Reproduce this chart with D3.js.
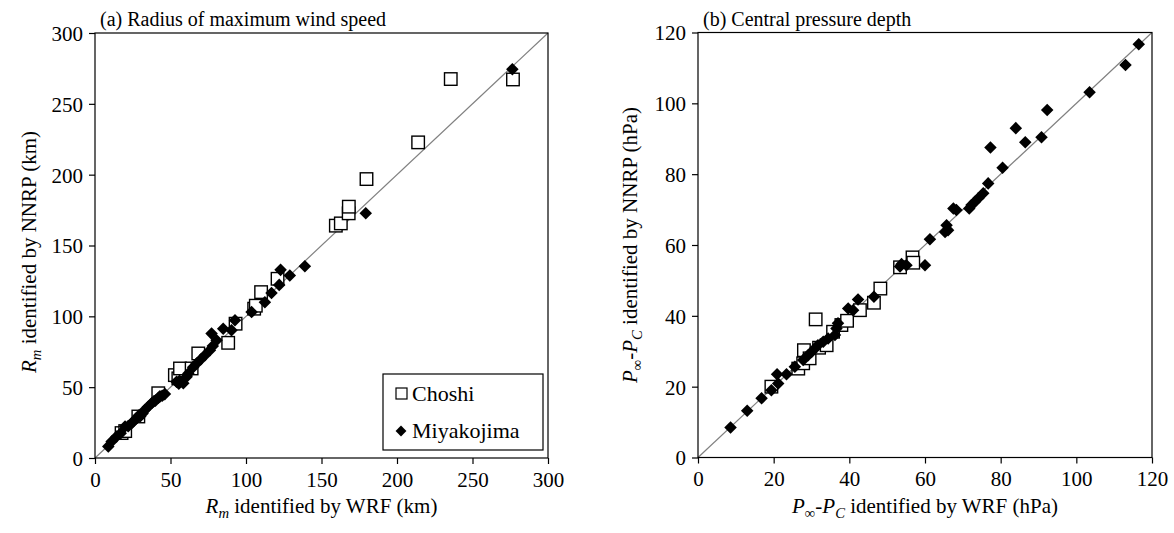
<!DOCTYPE html>
<html><head><meta charset="utf-8">
<script src="https://cdn.jsdelivr.net/npm/d3@7"></script>
<style>body{margin:0;background:#fff}</style>
</head><body>
<svg id="c" width="1174" height="533" font-family="Liberation Serif"></svg>
<script>
// ---------- data ----------
const seriesNames = ["Choshi", "Miyakojima"];
const rmTicks = [0, 50, 100, 150, 200, 250, 300];
const dpTicks = [0, 20, 40, 60, 80, 100, 120];

// (a) Radius of maximum wind speed (km)
const rmChoshiWRF  = [17.6, 20, 28.7, 41.9, 52.9, 55.2, 56.3, 64, 68.4, 88.2, 93.1, 105.4, 106.5, 110, 120.9, 159.5, 162.8, 168, 168.1, 179.8, 214, 235.6, 276.8];
const rmChoshiNNRP = [17.6, 19, 29.3, 45.7, 58.5, 56.2, 63.2, 63.2, 73.8, 81.3, 94.8, 105.4, 107.5, 117.1, 126.5, 164, 165.6, 172.7, 177.4, 196.9, 222.8, 267.5, 267.2];
const rmMiyaWRF  = [8.8, 11, 14.3, 17, 19.9, 22, 24.3, 25.5, 27.6, 29, 30, 31.5, 33.1, 35, 37.5, 39, 40, 42, 43, 44.5, 46.3, 54, 55.5, 56, 58.5, 60.7, 61.8, 65, 67.3, 70, 72.8, 76.1, 78, 80.5, 77.2, 84.9, 90.4, 92.7, 103.7, 112.5, 116.9, 122, 122.9, 129, 139, 179.3, 276.4];
const rmMiyaNNRP = [8.2, 11.7, 15.2, 17.5, 22.2, 22.5, 24.6, 26, 28.1, 30, 29.5, 31.5, 34, 36, 38.6, 40, 40.5, 42.5, 43.5, 44, 45.2, 53.9, 52.5, 54.5, 52.7, 57.4, 59.7, 64, 66.7, 69.5, 72.6, 76.1, 79, 83.1, 87.8, 91.3, 90.2, 97.2, 103, 110, 116.4, 122.2, 132.8, 128.8, 135.4, 172.7, 274.4];

// (b) Central pressure depth (hPa)
const dpChoshiWRF  = [19.4, 26.5, 27.8, 28, 29.5, 31.1, 32, 34, 35.7, 37.9, 39.4, 42.8, 46.5, 48.2, 53.4, 56.7, 56.9];
const dpChoshiNNRP = [20, 25.1, 26.6, 30.3, 28, 39, 31, 31.7, 35.5, 37.4, 38.6, 41.6, 43.7, 47.7, 53.7, 56.5, 55];
const dpMiyaWRF  = [8.6, 13, 16.8, 19.4, 21.2, 20.9, 23.4, 25.6, 27.8, 29.1, 30, 30.9, 31.7, 33.1, 34.4, 36.2, 36.6, 37, 39.7, 41, 42.3, 46.5, 53.4, 53.8, 55.1, 60, 61.3, 65.3, 66.1, 65.7, 67.5, 68.3, 71.7, 72.3, 73.2, 74.1, 75.4, 76.7, 77.3, 80.5, 84, 86.5, 90.8, 92.3, 103.5, 113, 116.5];
const dpMiyaNNRP = [8.5, 13.2, 16.7, 19, 20.9, 23.5, 23.5, 25.6, 27.5, 28.9, 29.8, 30.8, 31.7, 32.7, 33.6, 34.6, 36.4, 37.9, 42.1, 41.6, 44.6, 45.4, 53.9, 54.6, 54.3, 54.3, 61.6, 63.7, 64.2, 65.6, 70.3, 69.9, 70.3, 71.3, 72.2, 73.2, 74.6, 77.4, 87.5, 81.8, 93, 89, 90.4, 98.1, 103.1, 110.8, 116.7];

// ---------- drawing ----------
const FONT = "Liberation Serif";
const svg = d3.select("#c");
const FS = 21;

function label(sel, parts) {
  parts.forEach(p => {
    const t = sel.append("tspan").attr("font-family", FONT).text(p.t);
    if (p.i) t.attr("font-style", "italic");
    if (p.sub) t.attr("font-size", FS * 0.7).attr("baseline-shift", "-30%");
  });
}

function panel(opt) {
  const x = d3.scaleLinear().domain([opt.ticks[0], opt.ticks[opt.ticks.length - 1]]).range(opt.xr);
  const y = d3.scaleLinear().domain([opt.ticks[0], opt.ticks[opt.ticks.length - 1]]).range(opt.yr);
  const g = svg.append("g");

  g.append("line")
    .attr("x1", x(opt.ticks[0])).attr("y1", y(opt.ticks[0]))
    .attr("x2", x(opt.ticks[opt.ticks.length - 1])).attr("y2", y(opt.ticks[opt.ticks.length - 1]))
    .attr("stroke", "#808080").attr("stroke-width", 1.2);

  const ax = g.append("g").attr("transform", `translate(0,${opt.yr[0]})`)
    .call(d3.axisBottom(x).tickValues(opt.ticks).tickSize(6).tickSizeOuter(0).tickPadding(5));
  const ay = g.append("g").attr("transform", `translate(${opt.xr[0]},0)`)
    .call(d3.axisLeft(y).tickValues(opt.ticks).tickSize(6).tickSizeOuter(0).tickPadding(6));
  [ax, ay].forEach(a => {
    a.attr("font-family", FONT);
    a.select(".domain").remove();
    a.selectAll("line").attr("stroke", "#000").attr("stroke-width", 1.2);
    a.selectAll("text").attr("font-size", FS).attr("font-family", FONT).attr("fill", "#000");
  });
  ax.selectAll("text").attr("dy", "0.85em");
  ay.selectAll("text").attr("dy", "0.35em");

  g.append("rect")
    .attr("x", opt.xr[0]).attr("y", opt.yr[1])
    .attr("width", opt.xr[1] - opt.xr[0]).attr("height", opt.yr[0] - opt.yr[1])
    .attr("fill", "none").attr("stroke", "#000").attr("stroke-width", 1.2);

  const s = 12.5;
  g.selectAll(".sq").data(opt.cx.map((v, i) => [v, opt.cy[i]])).enter().append("rect")
    .attr("x", d => x(d[0]) - s / 2).attr("y", d => y(d[1]) - s / 2)
    .attr("width", s).attr("height", s)
    .attr("fill", "#fff").attr("stroke", "#000").attr("stroke-width", 1.4);
  const dsym = d3.symbol().type(d3.symbolDiamond2).size(100);
  g.selectAll(".dm").data(opt.mx.map((v, i) => [v, opt.my[i]])).enter().append("path")
    .attr("d", dsym)
    .attr("transform", d => `translate(${x(d[0])},${y(d[1])})`)
    .attr("fill", "#000");

  g.append("text").attr("x", opt.xr[0] + 5).attr("y", opt.yr[1] - 7)
    .attr("font-family", FONT).attr("font-size", 20).text(opt.title);

  const xt = g.append("text").attr("x", (opt.xr[0] + opt.xr[1]) / 2).attr("y", opt.yr[0] + 55)
    .attr("text-anchor", "middle").attr("font-family", FONT).attr("font-size", FS);
  label(xt, opt.xl);
  const yt = g.append("text")
    .attr("transform", `translate(${opt.ylx},${opt.ylc}) rotate(-90)`)
    .attr("text-anchor", "middle").attr("font-family", FONT).attr("font-size", FS);
  label(yt, opt.yl);
  return {g, x, y};
}

const A = panel({
  xr: [95, 548], yr: [458, 33], ticks: rmTicks,
  cx: rmChoshiWRF, cy: rmChoshiNNRP, mx: rmMiyaWRF, my: rmMiyaNNRP,
  title: "(a) Radius of maximum wind speed",
  xl: [{t: "R", i: 1}, {t: "m", i: 1, sub: 1}, {t: " identified by WRF (km)"}],
  yl: [{t: "R", i: 1}, {t: "m", i: 1, sub: 1}, {t: "  identified by NNRP (km)"}],
  ylx: 36, ylc: 252
});

const B = panel({
  xr: [698, 1152], yr: [457.5, 32.5], ticks: dpTicks,
  cx: dpChoshiWRF, cy: dpChoshiNNRP, mx: dpMiyaWRF, my: dpMiyaNNRP,
  title: "(b) Central pressure depth",
  xl: [{t: "P", i: 1}, {t: "∞", sub: 1}, {t: "-"}, {t: "P", i: 1}, {t: "C", i: 1, sub: 1}, {t: " identified by WRF (hPa)"}],
  yl: [{t: "P", i: 1}, {t: "∞", sub: 1}, {t: "-"}, {t: "P", i: 1}, {t: "C", i: 1, sub: 1}, {t: "  identified by NNRP (hPa)"}],
  ylx: 637, ylc: 245
});

// legend (panel a)
const lg = A.g.append("g");
lg.append("rect").attr("x", 383).attr("y", 374).attr("width", 160).attr("height", 76)
  .attr("fill", "#fff").attr("stroke", "#000").attr("stroke-width", 1.2);
lg.append("rect").attr("x", 396).attr("y", 388).attr("width", 11).attr("height", 11)
  .attr("fill", "#fff").attr("stroke", "#000").attr("stroke-width", 1.2);
lg.append("text").attr("x", 412).attr("y", 401).attr("font-family", FONT).attr("font-size", 22).text(seriesNames[0]);
lg.append("path").attr("d", d3.symbol().type(d3.symbolDiamond2).size(75)())
  .attr("transform", "translate(401,431)").attr("fill", "#000");
lg.append("text").attr("x", 412).attr("y", 438).attr("font-family", FONT).attr("font-size", 22).text(seriesNames[1]);
</script>
</body></html>
